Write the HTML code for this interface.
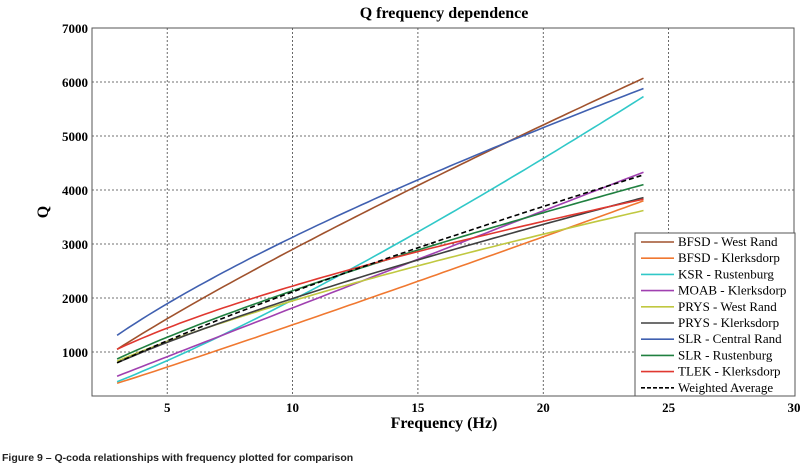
<!DOCTYPE html>
<html><head><style>
body{margin:0;background:#fff;width:808px;height:470px;overflow:hidden}
</style></head><body>
<svg width="808" height="470" xmlns="http://www.w3.org/2000/svg" font-family="Liberation Serif, serif">
<text x="444" y="18" text-anchor="middle" font-size="16" font-weight="bold">Q frequency dependence</text>
<g id="grid" stroke="#444" stroke-width="0.8" stroke-dasharray="2,2"></g>
<g id="series" fill="none" stroke-width="1.6"></g>
<rect x="92" y="28" width="702" height="368" fill="none" stroke="#555" stroke-width="1"/>
<g id="labels" font-size="13" font-weight="bold"></g>
<text x="444" y="428" text-anchor="middle" font-size="16" font-weight="bold">Frequency (Hz)</text>
<text transform="translate(48,212) rotate(-90)" text-anchor="middle" font-size="16" font-weight="bold">Q</text>
<rect x="635" y="233" width="160" height="163" fill="#fff" stroke="#555" stroke-width="1"/>
<g id="legend" font-size="13"></g>
<text x="2" y="461" font-family="Liberation Sans, sans-serif" font-size="10.5" font-weight="bold" fill="#222">Figure 9 – Q-coda relationships with frequency plotted for comparison</text>
</svg>
<script>
var NS="http://www.w3.org/2000/svg";
function X(f){return 92+(f-2)*25.07}
function Y(q){return 352-(q-1000)*0.054}
function el(p,t,a,txt){var e=document.createElementNS(NS,t);for(var k in a)e.setAttribute(k,a[k]);if(txt)e.textContent=txt;document.getElementById(p).appendChild(e);return e}
[5,10,15,20,25].forEach(function(f){el('grid','line',{x1:X(f),x2:X(f),y1:28,y2:396});});
[1000,2000,3000,4000,5000,6000].forEach(function(q){el('grid','line',{x1:92,x2:794,y1:Y(q),y2:Y(q)});});
[5,10,15,20,25,30].forEach(function(f){el('labels','text',{x:X(f),y:412,'text-anchor':'middle'},String(f));});
[1000,2000,3000,4000,5000,6000,7000].forEach(function(q){el('labels','text',{x:88,y:Y(q)+5,'text-anchor':'end'},String(q));});
var S=[
["BFSD - West Rand","#a0522d",1050,6070],
["BFSD - Klerksdorp","#f07830",420,3800],
["KSR - Rustenburg","#30c8c8",450,5730],
["MOAB - Klerksdorp","#a040b0",550,4330],
["PRYS - West Rand","#c0c840",830,3620],
["PRYS - Klerksdorp","#404040",800,3860],
["SLR - Central Rand","#4060b0",1310,5880],
["SLR - Rustenburg","#208040",870,4100],
["TLEK - Klerksdorp","#e03830",1050,3830],
["Weighted Average","#000",800,4280]];
S.forEach(function(s,i){
 var n=Math.log(s[3]/s[2])/Math.log(8),d="";
 for(var f=3;f<=24.001;f+=0.25){var q=s[2]*Math.pow(f/3,n);d+=(d?"L":"M")+X(f).toFixed(1)+","+Y(q).toFixed(1);}
 var a={d:d,stroke:s[1]};if(i==9){a['stroke-dasharray']='5,3';}
 el('series','path',a);
 var y=246+i*16.2;
 var la={x1:641,x2:674,y1:y-4,y2:y-4,stroke:s[1],'stroke-width':1.6};if(i==9)la['stroke-dasharray']='4,2';
 el('legend','line',la);
 el('legend','text',{x:678,y:y},s[0]);
});
</script>
</body></html>
